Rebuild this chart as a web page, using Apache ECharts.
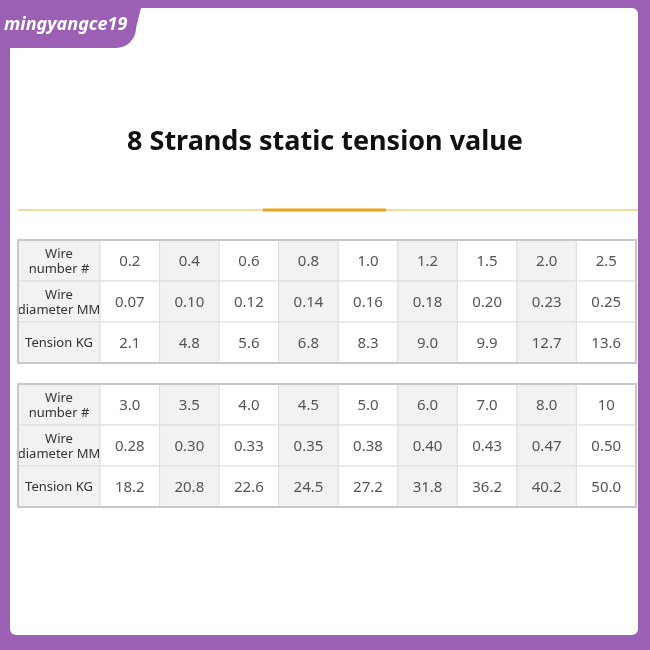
<!DOCTYPE html>
<html>
<head>
<meta charset="utf-8">
<script src="https://cdn.jsdelivr.net/npm/echarts@6/dist/echarts.min.js"></script>
<style>html,body{margin:0;padding:0;background:#9b5fb4;} #chart{width:650px;height:650px;}</style>
</head>
<body>
<div id="chart"></div>
<script>
// table data
const rowLabels = ['Wire\nnumber #', 'Wire\ndiameter MM', 'Tension KG'];
const wireNumber1 = ['0.2', '0.4', '0.6', '0.8', '1.0', '1.2', '1.5', '2.0', '2.5'];
const diameter1 = ['0.07', '0.10', '0.12', '0.14', '0.16', '0.18', '0.20', '0.23', '0.25'];
const tension1 = ['2.1', '4.8', '5.6', '6.8', '8.3', '9.0', '9.9', '12.7', '13.6'];
const wireNumber2 = ['3.0', '3.5', '4.0', '4.5', '5.0', '6.0', '7.0', '8.0', '10'];
const diameter2 = ['0.28', '0.30', '0.33', '0.35', '0.38', '0.40', '0.43', '0.47', '0.50'];
const tension2 = ['18.2', '20.8', '22.6', '24.5', '27.2', '31.8', '36.2', '40.2', '50.0'];

const chart = echarts.init(document.getElementById('chart'));
const font = '"Noto Sans", "Open Sans", sans-serif';

function cells(rows) {
  const out = [];
  rows.forEach((r, ri) => r.forEach((v, ci) => out.push([ci, ri, v])));
  return out;
}

function cellSeries(grid, data, isHeader) {
  return {
    type: 'custom',
    xAxisIndex: grid, yAxisIndex: grid,
    data: data,
    silent: true,
    renderItem: function (params, api) {
      const c = api.coord([api.value(0), api.value(1)]);
      const s = api.size([1, 1]);
      const col = api.value(0);
      const fill = isHeader ? '#f2f2f2' : (col % 2 === 1 ? '#f2f2f2' : '#ffffff');
      return {
        type: 'group',
        children: [{
          type: 'rect',
          shape: { x: c[0] - s[0] / 2, y: c[1] - s[1] / 2, width: s[0], height: s[1] },
          style: { fill: fill, stroke: '#dedede', lineWidth: 1 }
        }, {
          type: 'text',
          style: {
            x: c[0], y: c[1] + 1,
            text: data[params.dataIndex][2],
            align: 'center', verticalAlign: 'middle',
            fontFamily: font,
            fontSize: isHeader ? 13 : 15,
            lineHeight: 15,
            fill: isHeader ? '#333' : '#555'
          }
        }]
      };
    }
  };
}

const tables = [
  { top: 240, rows: [wireNumber1, diameter1, tension1] },
  { top: 384, rows: [wireNumber2, diameter2, tension2] }
];
const grids = [], xAxes = [], yAxes = [], series = [];
tables.forEach(t => {
  // header column grid
  grids.push({ left: 18, width: 82, top: t.top, height: 123 });
  xAxes.push({ type: 'category', data: [0], show: false, gridIndex: grids.length - 1 });
  yAxes.push({ type: 'category', data: [0, 1, 2], inverse: true, show: false, gridIndex: grids.length - 1 });
  series.push(cellSeries(grids.length - 1, rowLabels.map((l, i) => [0, i, l]), true));
  // value grid
  grids.push({ left: 100, width: 536, top: t.top, height: 123 });
  xAxes.push({ type: 'category', data: t.rows[0].map((_, i) => i), show: false, gridIndex: grids.length - 1 });
  yAxes.push({ type: 'category', data: [0, 1, 2], inverse: true, show: false, gridIndex: grids.length - 1 });
  series.push(cellSeries(grids.length - 1, cells(t.rows), false));
});

// logo tab outline, rounded lower-right corner
const tabPts = [[0, 0], [143, 0], [136, 28]];
for (let i = 0; i <= 8; i++) {
  const a = i / 8 * Math.PI / 2;
  tabPts.push([116 + 20 * Math.cos(a), 28 + 20 * Math.sin(a)]);
}
tabPts.push([0, 48]);

chart.setOption({
  animation: false,
  backgroundColor: '#9b5fb4',
  grid: grids,
  xAxis: xAxes,
  yAxis: yAxes,
  series: series,
  graphic: [
    { type: 'rect', z: -10, shape: { x: 10, y: 8, width: 628, height: 627, r: 6 }, style: { fill: '#ffffff' } },
    { type: 'polygon', z: 10, shape: { points: tabPts }, style: { fill: '#9b5fb4' } },
    { type: 'text', z: 11, style: { x: 4, y: 25, text: 'mingyangce19', verticalAlign: 'middle',
      fontFamily: font, fontStyle: 'italic', fontWeight: 'bold', fontSize: 18, fill: '#ffffff' } },
    { type: 'text', style: { x: 325, y: 142, text: '8 Strands static tension value', align: 'center', verticalAlign: 'middle',
      fontFamily: font, fontWeight: 'bold', fontSize: 27, fill: '#111' } },
    { type: 'line', shape: { x1: 18, y1: 210, x2: 638, y2: 210 }, style: { stroke: '#e2b73a', lineWidth: 1.2 } },
    { type: 'line', shape: { x1: 263, y1: 210, x2: 386, y2: 210 }, style: { stroke: '#e8a417', lineWidth: 3 } },
    { type: 'rect', z: 20, shape: { x: 18, y: 240, width: 618, height: 123 }, style: { fill: 'none', stroke: '#c8c8c8', lineWidth: 2 } },
    { type: 'rect', z: 20, shape: { x: 18, y: 384, width: 618, height: 123 }, style: { fill: 'none', stroke: '#c8c8c8', lineWidth: 2 } }
  ]
});
</script>
</body>
</html>
